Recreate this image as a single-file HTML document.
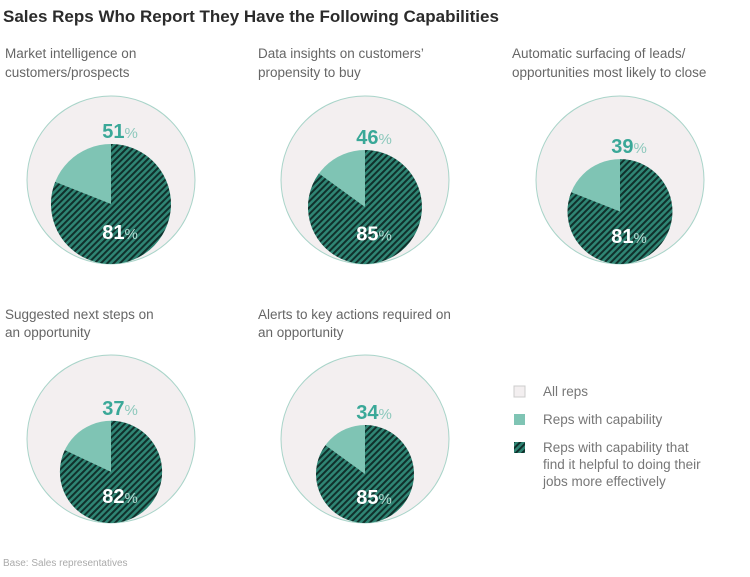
<!DOCTYPE html>
<html><head><meta charset="utf-8"><style>
body{margin:0;background:#fff;font-family:"Liberation Sans",sans-serif;}
svg text{font-family:"Liberation Sans",sans-serif;}
</style></head><body>
<svg width="750" height="572" viewBox="0 0 750 572" xmlns="http://www.w3.org/2000/svg">
<defs>
<pattern id="h" patternUnits="userSpaceOnUse" width="4.5" height="4.5" patternTransform="rotate(45)">
<rect width="4.5" height="4.5" fill="#2f8574"/>
<rect width="2" height="4.5" fill="#10302b"/>
</pattern>
</defs>
<text x="3" y="22" font-size="17" font-weight="bold" fill="#2b2b2b">Sales Reps Who Report They Have the Following Capabilities</text>
<g font-size="13.5" fill="#666">
<text x="5" y="58">Market intelligence on</text><text x="5" y="77">customers/prospects</text>
<text x="258" y="58">Data insights on customers’</text><text x="258" y="77">propensity to buy</text>
<text x="512" y="58">Automatic surfacing of leads/</text><text x="512" y="77">opportunities most likely to close</text>
<text x="5" y="319">Suggested next steps on</text><text x="5" y="337">an opportunity</text>
<text x="258" y="319">Alerts to key actions required on</text><text x="258" y="337">an opportunity</text>
</g>
<g id="charts"></g>
<g font-size="13.5" fill="#777">
<rect x="514" y="386" width="11" height="11" fill="#f3eff0" stroke="#ccc"/>
<text x="543" y="396">All reps</text>
<rect x="514" y="414" width="11" height="11" fill="#7fc4b4"/>
<text x="543" y="424">Reps with capability</text>
<rect x="514" y="442" width="11" height="11" fill="url(#h)"/>
<text x="543" y="452">Reps with capability that</text>
<text x="543" y="469">find it helpful to doing their</text>
<text x="543" y="486">jobs more effectively</text>
</g>
<text x="3" y="566" font-size="10" fill="#aaa">Base: Sales representatives</text>
</svg>
<script>
var data=[[111,180,51,81],[365,180,46,85],[620,180,39,81],[111,439,37,82],[365,439,34,85]];
var g=document.getElementById('charts'),s='';
data.forEach(function(d){
 var cx=d[0],cy=d[1],R=84,r=R*Math.sqrt(d[2]/100),icy=cy+R-r;
 s+='<circle cx="'+cx+'" cy="'+cy+'" r="'+R+'" fill="#f3eff0" stroke="#a9d4c9" stroke-width="1"/>';
 s+='<circle cx="'+cx+'" cy="'+icy+'" r="'+r+'" fill="#7fc4b4"/>';
 var a=d[3]/100*2*Math.PI,ex=cx+r*Math.sin(a),ey=icy-r*Math.cos(a);
 s+='<path d="M'+cx+','+icy+' L'+cx+','+(icy-r)+' A'+r+','+r+' 0 1 1 '+ex.toFixed(1)+','+ey.toFixed(1)+' Z" fill="url(#h)"/>';
 s+='<text x="'+(cx+9)+'" y="'+(icy-r-6)+'" text-anchor="middle" font-size="20" font-weight="bold" fill="#3aa898">'+d[2]+'<tspan font-size="15" font-weight="normal" fill="#8cc8bc">%</tspan></text>';
 s+='<text x="'+(cx+9)+'" y="'+(icy+0.45*r+8)+'" text-anchor="middle" font-size="20" font-weight="bold" fill="#fff">'+d[3]+'<tspan font-size="15" font-weight="normal" fill="#b5ddd4">%</tspan></text>';
});
g.innerHTML=s;
</script>
</body></html>
